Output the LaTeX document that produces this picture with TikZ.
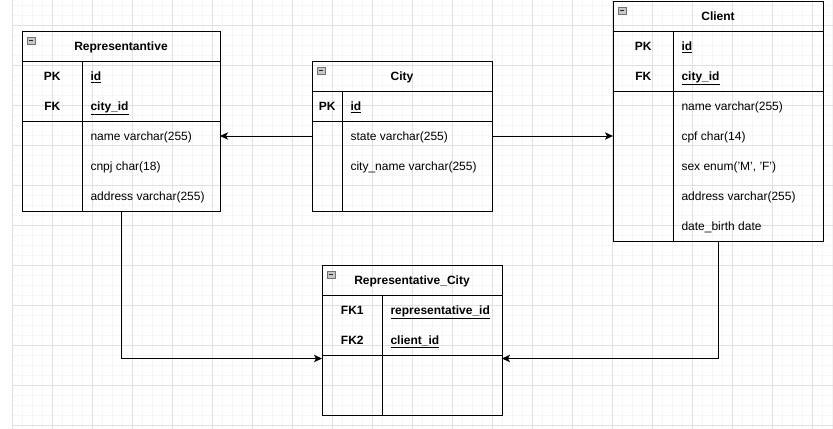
\documentclass[tikz,border=0pt]{standalone}
\usepackage{fontspec}
\setmainfont{Liberation Sans}
\usetikzlibrary{arrows.meta}
\newcommand\erfont{\fontsize{9pt}{11pt}\selectfont}
\newcommand\keyfld[1]{\textbf{\underline{#1}}}
\tikzset{
  tbl/.style={draw, line width=0.75pt, inner sep=0pt, outer sep=0pt},
  sepline/.style={line width=0.75pt},
  txtbase/.style={inner sep=0pt, outer sep=0pt, text height=6.45pt, text depth=0pt},
  ttl/.style={txtbase, font=\erfont\bfseries},
  keyt/.style={txtbase, font=\erfont\bfseries},
  fld/.style={txtbase, anchor=west, font=\erfont},
  arr/.style={line width=0.75pt, -{Stealth[length=6pt,width=5.5pt,inset=1.5pt]}},
  iconbox/.style={draw=black!55, fill=black!22, line width=0.5pt},
  iconbar/.style={line width=0.8pt, black!85},
  minorgrid/.style={line width=0.5pt, black!3.5},
  majorgrid/.style={line width=0.6pt, black!12},
}
\newcommand\ericon[2]{%
  \draw[iconbox] (#1+5.5,#2+6) rectangle (#1+13,#2+13.5);
  \draw[iconbar] (#1+7.3,#2+9.75) -- (#1+11.2,#2+9.75);}
\begin{document}
\begin{tikzpicture}[x=0.75pt,y=-0.75pt]
\useasboundingbox (0,0) rectangle (833,429);
\fill[white] (0,0) rectangle (833,429);
% grid
\foreach \x in {12,22,...,832} \draw[minorgrid] (\x,0) -- (\x,429);
\foreach \y in {5,15,...,425} \draw[minorgrid] (12,\y) -- (833,\y);
\foreach \x in {12,52,...,812} \draw[majorgrid] (\x,0) -- (\x,429);
\foreach \y in {25,65,...,425} \draw[majorgrid] (12,\y) -- (833,\y);

% ---------- Representantive ----------
\node[tbl, minimum width={198*0.75pt}, minimum height={180*0.75pt}] (rep) at (121,121) {};
\draw[sepline] (22,61) -- (220,61);
\draw[sepline] (22,121) -- (220,121);
\draw[sepline] (82.5,61) -- (82.5,211);
\ericon{22}{31}
\node[ttl] (reptitle) at (121,46) {Representantive};
\node[keyt] (reppk) at (52.3,76) {PK};
\node[keyt] (repfk) at (52.3,106) {FK};
\node[fld] (repid) at (90.5,76) {\keyfld{id}};
\node[fld] (repcity) at (90.5,106) {\keyfld{city\_id}};
\node[fld] (repname) at (90.5,136) {name varchar(255)};
\node[fld] (repcnpj) at (90.5,166) {cnpj char(18)};
\node[fld] (repaddr) at (90.5,196) {address varchar(255)};

% ---------- City ----------
\node[tbl, minimum width={180*0.75pt}, minimum height={150*0.75pt}] (city) at (402,136) {};
\draw[sepline] (312,91) -- (492,91);
\draw[sepline] (312,121) -- (492,121);
\draw[sepline] (342.3,91) -- (342.3,211);
\ericon{312}{61}
\node[ttl] (citytitle) at (402,76) {City};
\node[keyt] (citypk) at (327.2,106) {PK};
\node[fld] (cityid) at (350.5,106) {\keyfld{id}};
\node[fld] (citystate) at (350.5,136) {state varchar(255)};
\node[fld] (cityname) at (350.5,166) {city\_name varchar(255)};

% ---------- Client ----------
\node[tbl, minimum width={210*0.75pt}, minimum height={240*0.75pt}] (client) at (718,121) {};
\draw[sepline] (613,31) -- (823,31);
\draw[sepline] (613,91) -- (823,91);
\draw[sepline] (673.3,31) -- (673.3,241);
\ericon{613}{1}
\node[ttl] (clienttitle) at (718,16) {Client};
\node[keyt] (clientpk) at (643.3,46) {PK};
\node[keyt] (clientfk) at (643.3,76) {FK};
\node[fld] (clientid) at (681.5,46) {\keyfld{id}};
\node[fld] (clientcity) at (681.5,76) {\keyfld{city\_id}};
\node[fld] (clientname) at (681.5,106) {name varchar(255)};
\node[fld] (clientcpf) at (681.5,136) {cpf char(14)};
\node[fld] (clientsex) at (681.5,166) {sex enum('M', 'F')};
\node[fld] (clientaddr) at (681.5,196) {address varchar(255)};
\node[fld] (clientbirth) at (681.5,226) {date\_birth date};

% ---------- Representative_City ----------
\node[tbl, minimum width={180*0.75pt}, minimum height={150*0.75pt}] (rc) at (412,340) {};
\draw[sepline] (322,295) -- (502,295);
\draw[sepline] (322,355) -- (502,355);
\draw[sepline] (382.5,295) -- (382.5,415);
\ericon{322}{265}
\node[ttl] (rctitle) at (412,280) {Representative\_City};
\node[keyt] (rcfk1) at (352.3,310) {FK1};
\node[keyt] (rcfk2) at (352.3,340) {FK2};
\node[fld] (rcrep) at (390.5,310) {\keyfld{representative\_id}};
\node[fld] (rcclient) at (390.5,340) {\keyfld{client\_id}};

% ---------- connectors ----------
\coordinate (rcjoin) at (412,358.5);
\draw[arr] (city.west |- citystate) -- (rep.east |- citystate);
\draw[arr] (city.east |- citystate) -- (client.west |- citystate);
\draw[arr] (rep.south) |- (rc.west |- rcjoin);
\draw[arr] (client.south) |- (rc.east |- rcjoin);
\end{tikzpicture}
\end{document}
